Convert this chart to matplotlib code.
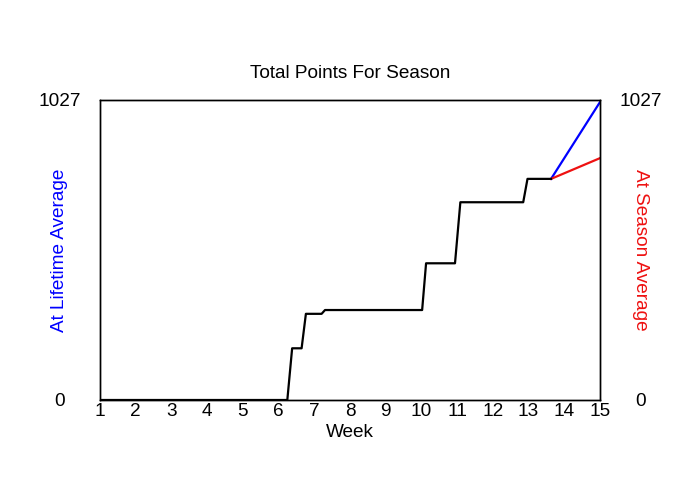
import matplotlib
matplotlib.use("Agg")
import matplotlib.pyplot as plt

plt.rcParams['font.family'] = ['Liberation Sans', 'DejaVu Sans']

# Data
week_ticks = list(range(1, 16))
y_max = 1027
actual_weeks = [1, 6.245, 6.38, 6.645, 6.765, 7.205, 7.30, 10.02, 10.13, 10.94, 11.09, 12.85, 12.97, 13.63]
actual_points = [0, 0, 177, 177, 295, 295, 308, 308, 468, 468, 677, 677, 757, 757]
lifetime_weeks = [13.63, 15]
lifetime_points = [757, 1020]
season_weeks = [13.63, 15]
season_points = [757, 828]

fs = 13.7

fig = plt.figure(figsize=(7, 5), dpi=100)
ax = fig.add_axes([100/700, 100/500, 500/700, 300/500])

ax.plot(actual_weeks, actual_points, color='black', lw=1.6, zorder=3)
ax.plot(lifetime_weeks, lifetime_points, color='#0000ff', lw=1.6, zorder=2)
ax.plot(season_weeks, season_points, color='#ee1111', lw=1.6, zorder=2)

ax.set_xlim(1, 15)
ax.set_ylim(0, y_max)
ax.set_xticks(week_ticks)
ax.set_xticklabels([str(w) for w in week_ticks], fontsize=fs)
ax.set_yticks([0, y_max])
ax.set_yticklabels(['0', str(y_max)], fontsize=fs, ha='center')
ax.tick_params(axis='both', length=0)
ax.tick_params(axis='x', pad=2)
ax.tick_params(axis='y', pad=29)

ax2 = ax.twinx()
ax2.set_ylim(0, y_max)
ax2.set_yticks([0, y_max])
ax2.set_yticklabels(['0', str(y_max)], fontsize=fs, ha='center')
ax2.tick_params(axis='y', length=0, pad=29)

for a in (ax, ax2):
    for s in a.spines.values():
        s.set_linewidth(1.0)

ax.set_xlabel('Week', fontsize=fs, labelpad=3)
ax.set_ylabel('At Lifetime Average', fontsize=fs, color='#0000ff', va='center')
ax.yaxis.set_label_coords(-0.082, 0.5)
ax2.set_ylabel('At Season Average', fontsize=fs, color='#ee1111', rotation=270, va='center')
ax2.yaxis.set_label_coords(1.08, 0.5)

ax.set_title('Total Points For Season', fontsize=fs, pad=16)

fig.savefig('out.png', dpi=100)
